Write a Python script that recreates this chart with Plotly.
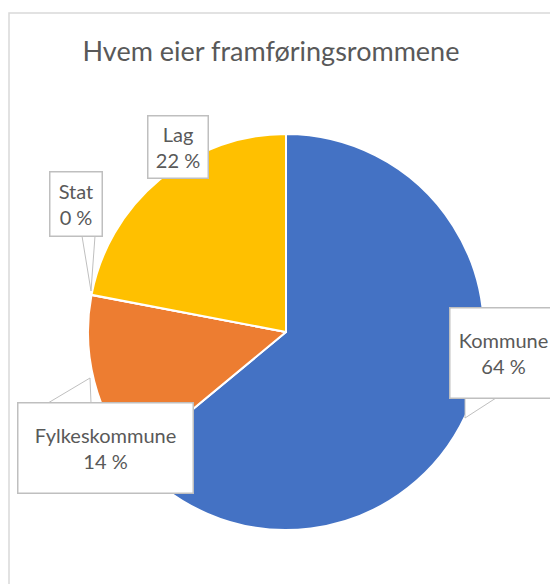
import plotly.graph_objects as go

labels = ["Kommune", "Fylkeskommune", "Stat", "Lag"]
values = [64, 14, 0.02, 22]
pct_text = ["64 %", "14 %", "0 %", "22 %"]
colors = ["#4472C4", "#ED7D31", "#A5A5A5", "#FFC000"]

W, H = 550, 584
FONT = "Lato"
TXT = "#595959"

def px(x, y):
    """window pixel -> paper coordinates"""
    return x / W, 1 - y / H

dx0, dy1 = px(88, 134)
dx1, dy0 = px(484, 530)
fig = go.Figure(go.Pie(
    labels=labels, values=values, sort=False, direction="clockwise", rotation=0,
    marker=dict(colors=colors, line=dict(color="white", width=2)),
    textinfo="none", hoverinfo="label+percent", showlegend=False,
    domain=dict(x=[dx0, dx1], y=[dy0, dy1]),
))

# frame
fx0, fy1 = px(9, 13)
fig.add_shape(type="rect", xref="paper", yref="paper",
              x0=fx0, x1=1.05, y0=-0.05, y1=fy1,
              line=dict(color="#D9D9D9", width=1.5), fillcolor="rgba(0,0,0,0)", layer="below")

# callout tails (decoration)
def tail(pts):
    p = [px(*q) for q in pts]
    path = "M " + " L ".join(f"{a},{b}" for a, b in p) + " Z"
    fig.add_shape(type="path", xref="paper", yref="paper", path=path,
                  fillcolor="white", line=dict(color="#BFBFBF", width=1))

tail([(82, 236), (91, 291), (95, 236)])            # Stat
tail([(48, 403), (90, 378), (91, 403)])            # Fylkeskommune
tail([(465, 398), (465, 418), (496, 398)])         # Kommune

# label boxes: (center x, center y, width, height) in window pixels
boxes = {
    "Kommune": (503, 353, 108, 91),
    "Fylkeskommune": (105, 448, 176, 91),
    "Stat": (76, 204, 53, 65),
    "Lag": (178, 147, 61, 63),
}
for lab, pt in zip(labels, pct_text):
    cx, cy, bw, bh = boxes[lab]
    x, y = px(cx, cy)
    fig.add_annotation(xref="paper", yref="paper", x=x, y=y, showarrow=False,
                       xanchor="center", yanchor="middle",
                       text=f"{lab}<br>{pt}", align="center",
                       width=bw - 2, height=bh - 2,
                       bgcolor="white", bordercolor="#BFBFBF", borderwidth=1.5, borderpad=0,
                       font=dict(family=FONT, size=20, color=TXT))

tx, ty = px(271, 52)
fig.update_layout(
    width=W, height=H,
    margin=dict(l=0, r=0, t=0, b=0),
    paper_bgcolor="white", plot_bgcolor="white",
    title=dict(text="Hvem eier framføringsrommene", x=tx, xanchor="center",
               y=ty, yanchor="middle",
               font=dict(family=FONT, size=27, color=TXT)),
)

fig.write_html("out.html", config={"displayModeBar": False},
               post_script="document.body.style.margin='0';document.body.style.overflow='hidden';")
